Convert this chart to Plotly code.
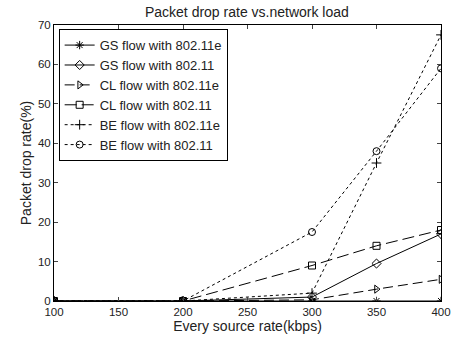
import plotly.graph_objects as go

rates = [100, 200, 300, 350, 400]
gs_11e = [0, 0, 0, 0, 0]
gs_11 = [0, 0, 1, 9.5, 17]
cl_11e = [0, 0, 0.3, 3, 5.5]
cl_11 = [0, 0, 9, 14, 18]
be_11e = [0, 0, 2, 35, 67.5]
be_11 = [0, 0, 17.5, 38, 59]

series = [
    ("GS flow with 802.11e", gs_11e, "asterisk-open", "solid"),
    ("GS flow with 802.11", gs_11, "diamond-open", "solid"),
    ("CL flow with 802.11e", cl_11e, "triangle-right-open", "10px,5px"),
    ("CL flow with 802.11", cl_11, "square-open", "12px,5px"),
    ("BE flow with 802.11e", be_11e, "cross-thin-open", "3px,3px"),
    ("BE flow with 802.11", be_11, "circle-open", "3px,3px"),
]

fig = go.Figure()
for name, vals, sym, dash in series:
    fig.add_trace(go.Scatter(
        x=rates, y=vals, name=name, mode="lines+markers",
        line=dict(color="black", width=1, dash=dash),
        marker=dict(symbol=sym, size=7, color="black", line=dict(color="black", width=1)),
    ))

fig.update_layout(
    width=453, height=337,
    margin=dict(l=54, r=12, t=25, b=36),
    paper_bgcolor="white", plot_bgcolor="white",
    font=dict(family="Liberation Sans, Arial", size=11.5, color="#222"),
    title=dict(text="Packet drop rate vs.network load", x=0.545, xanchor="center",
               y=0.98, yanchor="top", font=dict(size=14)),
    legend=dict(x=0.012, y=0.985, xanchor="left", yanchor="top",
                bordercolor="black", borderwidth=1, bgcolor="white",
                font=dict(size=13), tracegroupgap=0, itemwidth=30),
    showlegend=True,
)
fig.update_xaxes(range=[100, 400], tickvals=[100, 150, 200, 250, 300, 350, 400],
                 ticks="inside", ticklen=4, mirror="ticks", showline=True, automargin=False,
                 linecolor="black", linewidth=1, showgrid=False, zeroline=False,
                 title=dict(text="Every source rate(kbps)", font=dict(size=14), standoff=3))
fig.update_yaxes(range=[0, 70], tickvals=[0, 10, 20, 30, 40, 50, 60, 70],
                 ticks="inside", ticklen=4, mirror="ticks", showline=True, automargin=False,
                 linecolor="black", linewidth=1, showgrid=False, zeroline=False,
                 title=dict(text="Packet drop rate(%)", font=dict(size=14), standoff=3))

fig.write_html("out.html")
